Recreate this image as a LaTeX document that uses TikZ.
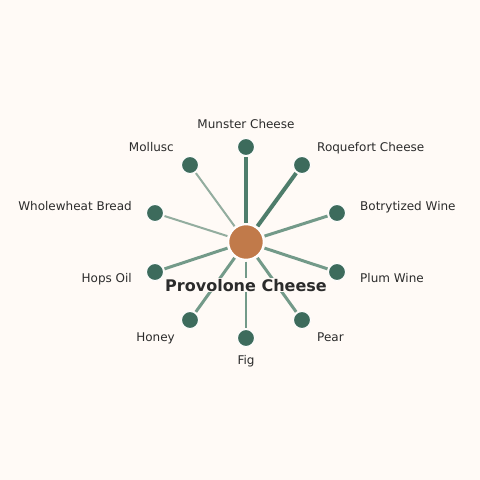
\documentclass[tikz,border=0pt]{standalone}
\usepackage{fontspec}
\setmainfont{DejaVu Sans}
\definecolor{bg}{HTML}{FFFAF6}
\definecolor{leaf}{HTML}{3D6B5C}
\definecolor{hub}{HTML}{C17A4A}
\definecolor{txt}{HTML}{2B2B2B}
\definecolor{sA}{HTML}{4E7D6B}
\definecolor{sB}{HTML}{739A89}
\definecolor{sC}{HTML}{93AD9F}
\begin{document}
\begin{tikzpicture}[x=1pt,y=-1pt,
  leafnode/.style={circle,fill=leaf,draw=white,line width=1pt,minimum size=17pt,inner sep=0pt,outer sep=1.5pt},
  hubnode/.style={circle,fill=hub,draw=white,line width=1.5pt,minimum size=35pt,inner sep=0pt,outer sep=2pt},
  lbl/.style={text=txt,font=\fontsize{12}{14}\selectfont,inner sep=0pt},
  spoke/.style={line cap=butt}]
\fill[bg] (0,0) rectangle (480,480);
\useasboundingbox (0,0) rectangle (480,480);
\node[hubnode] (c) at (246,242) {};
\node[leafnode] (n1) at (246,147) {};
\node[leafnode] (n2) at (302,165) {};
\node[leafnode] (n3) at (337,213) {};
\node[leafnode] (n4) at (337,272) {};
\node[leafnode] (n5) at (302,320) {};
\node[leafnode] (n6) at (246,338) {};
\node[leafnode] (n7) at (190,320) {};
\node[leafnode] (n8) at (155,272) {};
\node[leafnode] (n9) at (155,213) {};
\node[leafnode] (n10) at (190,165) {};
\draw[spoke,sA,line width=4pt] (c) -- (n1);
\draw[spoke,sA,line width=4pt] (c) -- (n2);
\draw[spoke,sB,line width=3pt] (c) -- (n3);
\draw[spoke,sB,line width=3pt] (c) -- (n4);
\draw[spoke,sB,line width=3pt] (c) -- (n5);
\draw[spoke,sB,line width=2.5pt] (c) -- (n6);
\draw[spoke,sB,line width=3pt] (c) -- (n7);
\draw[spoke,sB,line width=3pt] (c) -- (n8);
\draw[spoke,sC,line width=2pt] (c) -- (n9);
\draw[spoke,sC,line width=2pt] (c) -- (n10);
\node[lbl,anchor=base] (t1) at (246,128) {Munster Cheese};
\node[lbl,anchor=base west] (t2) at (317,151) {Roquefort Cheese};
\node[lbl,anchor=base west] (t3) at (360,210) {Botrytized Wine};
\node[lbl,anchor=base west] (t4) at (360,282) {Plum Wine};
\node[lbl,anchor=base west] (t5) at (317,341) {Pear};
\node[lbl,anchor=base] (t6) at (246,364) {Fig};
\node[lbl,anchor=base east] (t7) at (175,341) {Honey};
\node[lbl,anchor=base east] (t8) at (132,282) {Hops Oil};
\node[lbl,anchor=base east] (t9) at (132,210) {Wholewheat Bread};
\node[lbl,anchor=base east] (t10) at (174,151) {Mollusc};
\node[text=txt,fill=bg,font=\bfseries\fontsize{16}{19}\selectfont,inner sep=1pt,anchor=base] (tc) at (246,291) {Provolone Cheese};
\end{tikzpicture}
\end{document}
